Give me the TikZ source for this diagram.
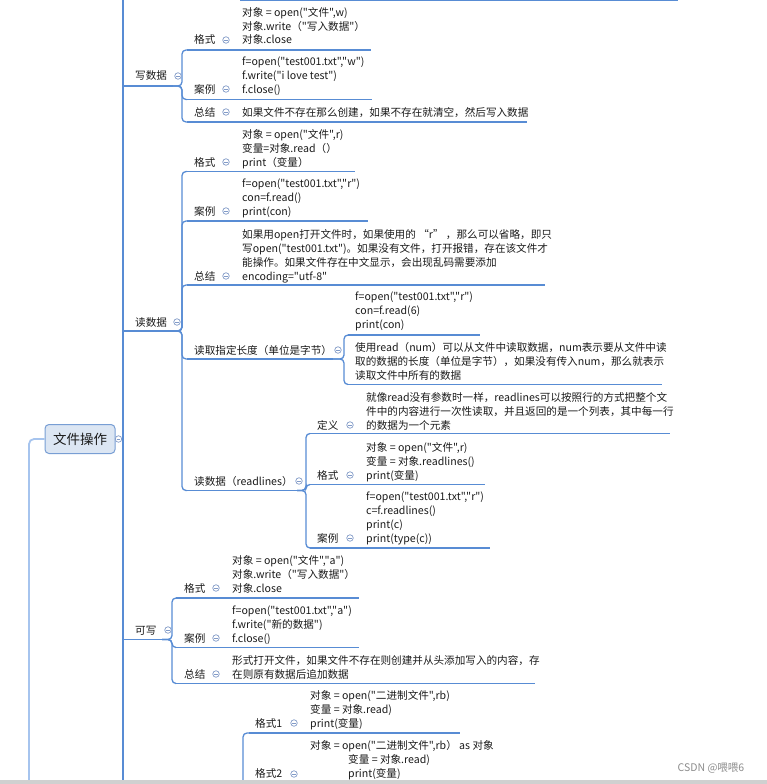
\documentclass[tikz,border=0pt]{standalone}
\usepackage{fontspec}
\setmainfont{Noto Sans CJK SC}[Ligatures=TeXOff]
\definecolor{lineBlue}{RGB}{88,140,212}
\definecolor{leftBlue}{RGB}{166,196,238}
\definecolor{rootFill}{RGB}{220,230,243}
\definecolor{rootDraw}{RGB}{120,158,212}
\definecolor{foldGray}{RGB}{130,155,200}
\definecolor{barGray}{RGB}{208,208,208}
\definecolor{markGray}{RGB}{140,140,140}
\definecolor{textBlack}{RGB}{26,26,26}
\begin{document}
\begin{tikzpicture}
[x=1pt,y=-1pt,
  lineDecorate/.style={-,line width=1.3pt,draw=lineBlue},%
  connDecorate/.style={lineDecorate,rounded corners=4pt},%
  leftDecorate/.style={-,line width=1.8pt,draw=leftBlue,rounded corners=5pt},%
  rootDecorate/.style={shape=rectangle,rounded corners=4pt,draw=rootDraw,fill=rootFill,line width=1pt,
    minimum width=70pt,minimum height=29pt,inner sep=0pt,text=textBlack,font=\fontsize{13.5}{16}\selectfont},%
  foldDecorate/.style={shape=circle,draw=foldGray,fill=white,line width=0.7pt,minimum size=6.5pt,inner sep=0pt},%
  labelDecorate/.style={anchor=base west,inner sep=0pt,text=textBlack,font=\fontsize{10.6}{13.8}\selectfont},%
  textDecorate/.style={labelDecorate,align=left}]
\useasboundingbox (0,0) rectangle (767,784);
%% root and main lines
\node (root) at (80,439) [rootDecorate] {文件操作};
\coordinate (spineTop) at (123,-2);
\coordinate (spineBot) at (123,790);
\coordinate (rootJ) at (123,439);
\coordinate (leftBot) at (29,790);
\draw[lineDecorate] (spineTop) -- (spineBot);
\draw[lineDecorate] (root.east) -- (rootJ);
\draw[leftDecorate] (root.west) -| (leftBot);
%% underlines
\foreach \uname/\xs/\xe/\y in {
  topItem/240/678/0.7,
  writeData/123/173/86, wFormat/187/371/50, wCase/187/372/99.5, wSum/187/527/122,
  readData/123/174/331, rFormat/187/355/171.5, rCase/187/368/221, rSum/187/545/285,
  rLength/187/333/359, rLenA/348/480/335, rLenB/348/662/384.5,
  rLines/187/297/490.5, rlDef/310/670/433.5, rlFormat/310/485/484.5, rlCase/310/490/548,
  appendData/123/162/639.5, aFormat/176/359/598, aCase/176/359/647.5, aSum/176/535/683.5,
  bFormatA/249/460/733}
{
  \coordinate (\uname-s) at (\xs,\y);
  \coordinate (\uname-e) at (\xe,\y);
  \draw[lineDecorate] (\uname-s) -- (\uname-e);
}
%% connectors
\foreach \jname/\x/\y in {writeData/182/86, readData/182/331, rLength/344/359,
  rLines/306/490.5, appendData/172/639.5}
{
  \coordinate (\jname-j) at (\x,\y);
}
\foreach \startnode/\endnode in {writeData/wFormat, writeData/wCase, writeData/wSum,
  readData/rFormat, readData/rCase, readData/rSum, readData/rLength, readData/rLines,
  rLength/rLenA, rLength/rLenB, rLines/rlDef, rLines/rlFormat, rLines/rlCase,
  appendData/aFormat, appendData/aCase, appendData/aSum}
{
  \draw[connDecorate] (\startnode-e) -- (\startnode-j) |- (\endnode-s);
}
\coordinate (binJ) at (243,790);
\draw[connDecorate] (binJ) |- (bFormatA-s);
%% fold marks
\foreach \fname/\x/\y in {root/118.5/439,
  writeData/178/76, wFormat/226/40, wCase/226/89, wSum/226/112,
  readData/177/322, rFormat/226/162, rCase/226/211, rSum/226/276,
  rLength/338/350, rLines/299/481, rlDef/350/425, rlFormat/350/475, rlCase/350/538,
  appendData/168/630, aFormat/216/588, aCase/216/638, aSum/216/674,
  bFormatA/294/723, bFormatB/294/774}
{
  \node (\fname-fold) at (\x,\y) [foldDecorate] {};
  \draw[foldGray,line width=0.7pt] ([xshift=-1.8pt]\fname-fold.center) -- ([xshift=1.8pt]\fname-fold.center);
}
%% labels
\foreach \lname/\x/\y/\ltext in {
  writeData/135/80/写数据, wFormat/194/44/格式, wCase/194/93/案例, wSum/194/116/总结,
  readData/135/326/读数据, rFormat/194/166/格式, rCase/194/215/案例, rSum/194/280/总结,
  rLength/194/354/读取指定长度（单位是字节）, rLines/194/485/读数据（readlines）,
  rlDef/317/429/定义, rlFormat/317/479/格式, rlCase/317/542/案例,
  appendData/135/634/可写, aFormat/184/592/格式, aCase/184/642/案例, aSum/184/678/总结,
  bFormatA/255/727/格式1, bFormatB/255/777/格式2}
{
  \node (\lname) at (\x,\y) [labelDecorate] {\ltext};
}
%% texts
\node (wFormatTxt) at (242,44) [textDecorate] {对象 = open("文件",w)\\对象.write（"写入数据"）\\对象.close};
\node (wCaseTxt) at (242,93) [textDecorate] {f=open("test001.txt","w")\\f.write("i love test")\\f.close()};
\node (wSumTxt) at (242,116) [textDecorate] {如果文件不存在那么创建，如果不存在就清空，然后写入数据};
\node (rFormatTxt) at (242,166) [textDecorate] {对象 = open("文件",r)\\变量=对象.read（）\\print（变量）};
\node (rCaseTxt) at (242,215) [textDecorate] {f=open("test001.txt","r")\\con=f.read()\\print(con)};
\node (rSumTxt) at (242,280) [textDecorate] {如果用open打开文件时，如果使用的 “r” ，那么可以省略，即只\\写open("test001.txt")。如果没有文件，打开报错，存在该文件才\\能操作。如果文件存在中文显示，会出现乱码需要添加\\encoding="utf-8"};
\node (rLenATxt) at (355,328) [textDecorate] {f=open("test001.txt","r")\\con=f.read(6)\\print(con)};
\node (rLenBTxt) at (355,379) [textDecorate] {使用read（num）可以从文件中读取数据，num表示要从文件中读\\取的数据的长度（单位是字节），如果没有传入num，那么就表示\\读取文件中所有的数据};
\node (rlDefTxt) at (366,429) [textDecorate] {就像read没有参数时一样，readlines可以按照行的方式把整个文\\件中的内容进行一次性读取，并且返回的是一个列表，其中每一行\\的数据为一个元素};
\node (rlFormatTxt) at (366,479) [textDecorate] {对象 = open("文件",r)\\变量 = 对象.readlines()\\print(变量)};
\node (rlCaseTxt) at (366,542) [textDecorate] {f=open("test001.txt","r")\\c=f.readlines()\\print(c)\\print(type(c))};
\node (aFormatTxt) at (232,592) [textDecorate] {对象 = open("文件","a")\\对象.write（"写入数据"）\\对象.close};
\node (aCaseTxt) at (232,642) [textDecorate] {f=open("test001.txt","a")\\f.write("新的数据")\\f.close()};
\node (aSumTxt) at (232,678) [textDecorate] {形式打开文件，如果文件不存在则创建并从头添加写入的内容，存\\在则原有数据后追加数据};
\node (bFormatATxt) at (310,727) [textDecorate] {对象 = open("二进制文件",rb)\\变量 = 对象.read)\\print(变量)};
\node (bFormatBTxt) at (310,777) [textDecorate] {对象 = open("二进制文件",rb） as 对象\\\hspace*{38pt}变量 = 对象.read)\\\hspace*{38pt}print(变量)};
%% bottom bar and mark
\fill[barGray] (0,779.5) rectangle (767,784);
\node (mark) at (711,768) [inner sep=0pt,text=markGray,font=\fontsize{10.5}{12}\selectfont] {CSDN @喂喂6};
\end{tikzpicture}
\end{document}
